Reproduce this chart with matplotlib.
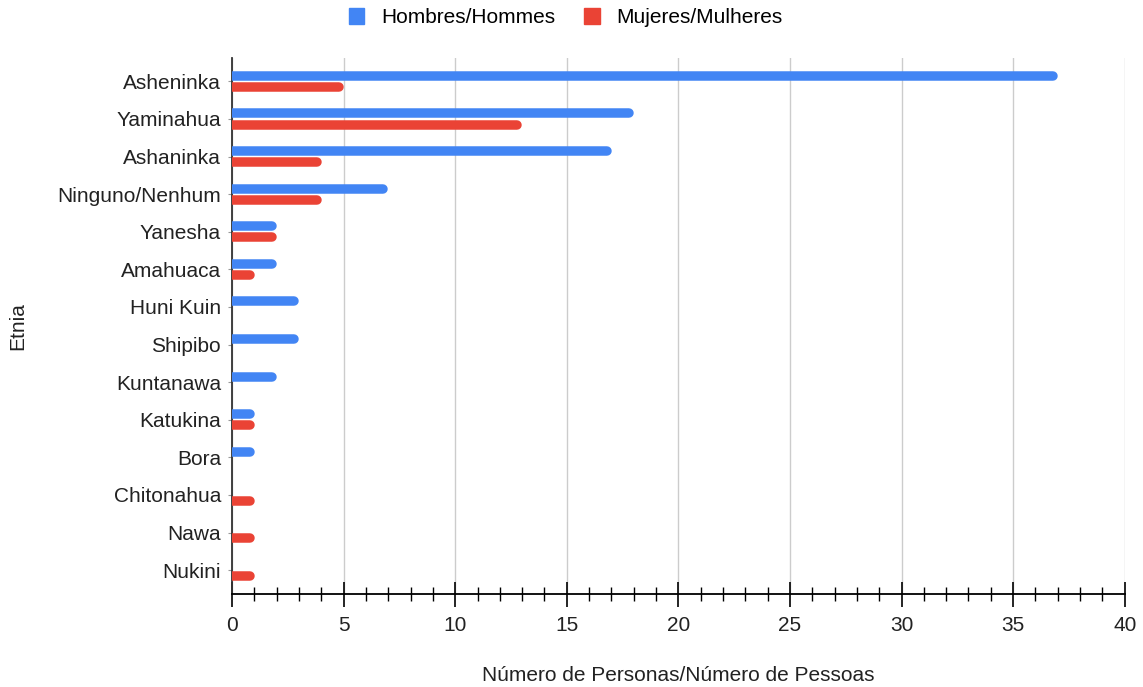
import matplotlib.pyplot as plt
import numpy as np
from matplotlib.patches import Patch
from matplotlib.ticker import MultipleLocator

plt.rcParams['font.family'] = ['Liberation Sans', 'DejaVu Sans']

etnias = ['Asheninka', 'Yaminahua', 'Ashaninka', 'Ninguno/Nenhum', 'Yanesha',
          'Amahuaca', 'Huni Kuin', 'Shipibo', 'Kuntanawa', 'Katukina', 'Bora',
          'Chitonahua', 'Nawa', 'Nukini']
hombres = [37, 18, 17, 7, 2, 2, 3, 3, 2, 1, 1, 0, 0, 0]
mujeres = [5, 13, 4, 4, 2, 1, 0, 0, 0, 1, 0, 1, 1, 1]

blue = '#4285F4'
red = '#EA4335'

fig = plt.figure(figsize=(11.43, 6.87), dpi=100)
ax = fig.add_axes([0.203, 0.135, 0.781, 0.781])

y = np.arange(len(etnias))
ax.set_xlim(0, 40)
ax.set_ylim(len(etnias) - 0.36, -0.63)

# bars as thick lines with a rounded right end; the left cap is clipped at x=0
thick_px = 9.5
thick_pt = thick_px * 72 / fig.dpi
rx = (thick_px / 2) * 40 / (0.781 * fig.get_figwidth() * fig.dpi)
for vals, off, col in [(hombres, -0.15, blue), (mujeres, 0.15, red)]:
    for yy, v in zip(y, vals):
        if v <= 0:
            continue
        ax.plot([0, v - rx], [yy + off, yy + off], color=col, lw=thick_pt,
                solid_capstyle='round', zorder=3)

ax.set_yticks(y)
ax.set_yticklabels(etnias, fontsize=15, color='#222222')

ax.xaxis.set_major_locator(MultipleLocator(5))
ax.xaxis.set_minor_locator(MultipleLocator(1))
ax.tick_params(axis='x', which='major', direction='inout', length=18, width=1.2,
               labelsize=15, pad=7, labelcolor='#222222')
ax.tick_params(axis='x', which='minor', direction='inout', length=10, width=1)
ax.tick_params(axis='y', length=3, color='#999999', pad=5)

ax.grid(axis='x', which='major', color='#cccccc', linewidth=1, zorder=0)
for s in ['top', 'right']:
    ax.spines[s].set_visible(False)
ax.spines['left'].set_color('#333333')
ax.spines['left'].set_linewidth(1.3)
ax.spines['bottom'].set_linewidth(1.3)

ax.set_xlabel('Número de Personas/Número de Pessoas', fontsize=15, color='#222222')
ax.xaxis.set_label_coords(0.5, -0.134)
ax.set_ylabel('Etnia', fontsize=15, color='#222222')
ax.yaxis.set_label_coords(-0.229, 0.5)

handles = [Patch(color=blue, label='Hombres/Hommes'),
           Patch(color=red, label='Mujeres/Mulheres')]
fig.legend(handles=handles, loc='center', bbox_to_anchor=(0.495, 0.974), ncol=2,
           frameon=False, fontsize=15, handlelength=0.75, handleheight=0.75,
           columnspacing=1.4, handletextpad=0.8)

fig.savefig('out.png', dpi=100)
